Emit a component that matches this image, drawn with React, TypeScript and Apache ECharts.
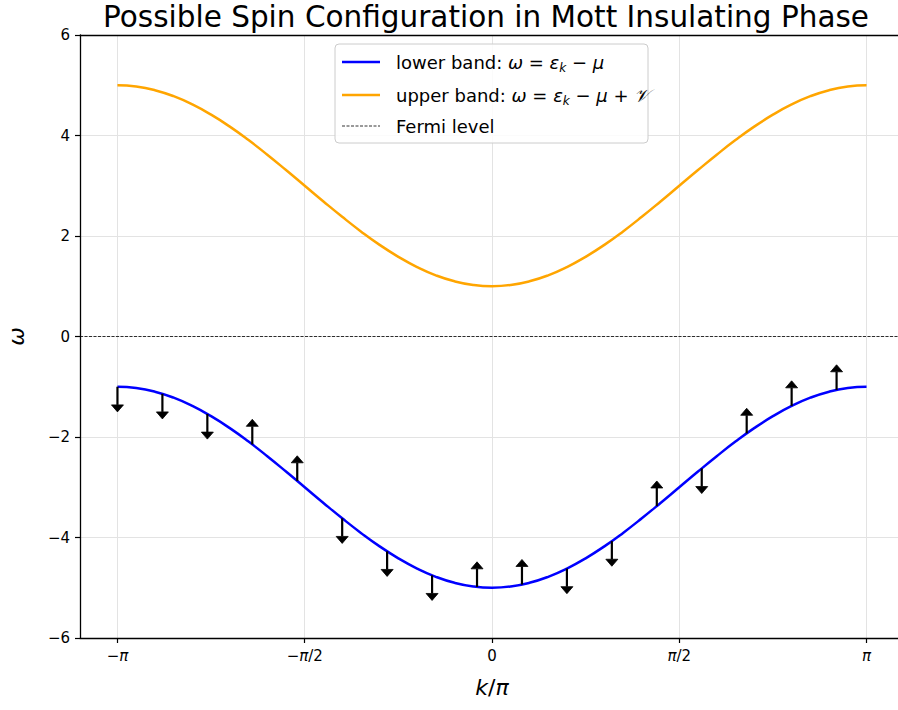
import React, { useEffect, useRef } from "react";
import * as echarts from "echarts";

const FONT = "DejaVu Sans";

// k/π sample positions and band values
const kGrid = [
  -1, -0.95, -0.9, -0.85, -0.8, -0.75, -0.7, -0.65, -0.6, -0.55, -0.5, -0.45, -0.4, -0.35, -0.3, -0.25, -0.2, -0.15, -0.1, -0.05,
  0, 0.05, 0.1, 0.15, 0.2, 0.25, 0.3, 0.35, 0.4, 0.45, 0.5, 0.55, 0.6, 0.65, 0.7, 0.75, 0.8, 0.85, 0.9, 0.95, 1,
];
const lowerBand = [
  -1, -1.025, -1.098, -1.218, -1.382, -1.586, -1.824, -2.092, -2.382, -2.687, -3, -3.313, -3.618, -3.908, -4.176, -4.414, -4.618, -4.782, -4.902, -4.975,
  -5, -4.975, -4.902, -4.782, -4.618, -4.414, -4.176, -3.908, -3.618, -3.313, -3, -2.687, -2.382, -2.092, -1.824, -1.586, -1.382, -1.218, -1.098, -1.025, -1,
];
const upperBand = [
  5, 4.975, 4.902, 4.782, 4.618, 4.414, 4.176, 3.908, 3.618, 3.313, 3, 2.687, 2.382, 2.092, 1.824, 1.586, 1.382, 1.218, 1.098, 1.025,
  1, 1.025, 1.098, 1.218, 1.382, 1.586, 1.824, 2.092, 2.382, 2.687, 3, 3.313, 3.618, 3.908, 4.176, 4.414, 4.618, 4.782, 4.902, 4.975, 5,
];

// spin arrows: k/π, starting energy on the lower band, direction (+1 up, -1 down)
const spinK = [-1, -0.88, -0.76, -0.64, -0.52, -0.4, -0.28, -0.16, -0.04, 0.08, 0.2, 0.32, 0.44, 0.56, 0.68, 0.8, 0.92];
const spinBase = [-1, -1.14, -1.542, -2.148, -2.874, -3.618, -4.275, -4.753, -4.984, -4.937, -4.618, -4.072, -3.375, -2.625, -1.928, -1.382, -1.063];
const spinDir = [-1, -1, -1, 1, 1, -1, -1, -1, 1, 1, -1, -1, 1, -1, 1, 1, 1];
const arrowLength = 0.5;

const xTicks = [-1, -0.5, 0, 0.5, 1];
const xTickLabels = ["{n|−}{i|π}", "{n|−}{i|π}{n|/2}", "{n|0}", "{i|π}{n|/2}", "{i|π}"];
const fermiLevel = 0;

export default function App() {
  const ref = useRef<HTMLDivElement>(null);
  useEffect(() => {
    const chart = echarts.init(ref.current!, undefined, { renderer: "svg" });

    const richBase = {
      n: { fontFamily: FONT, fontSize: 18, color: "#222", lineHeight: 24 },
      i: { fontFamily: FONT, fontSize: 18, fontStyle: "italic", color: "#222", lineHeight: 24 },
      s: { fontFamily: FONT, fontSize: 12, fontStyle: "italic", color: "#222", verticalAlign: "bottom" },
    };

    const legendRows = [
      { y: 62, color: "#0000ff", dash: null, text: "{n|lower band: }{i|ω}{n| = }{i|ε}{s|k}{n| − }{i|μ}" },
      { y: 95, color: "#ffa500", dash: null, text: "{n|upper band: }{i|ω}{n| = }{i|ε}{s|k}{n| − }{i|μ}{n| + }{i|𝒱}" },
      { y: 126, color: "#000", dash: [3, 1.5], text: "{n|Fermi level}" },
    ];

    const graphic: any[] = [
      {
        type: "rect",
        shape: { x: 335, y: 44, width: 313, height: 99, r: 4 },
        style: { fill: "rgba(255,255,255,0.85)", stroke: "#cccccc", lineWidth: 1 },
        z: 50,
      },
    ];
    legendRows.forEach((r) => {
      graphic.push({
        type: "line",
        shape: { x1: 342, y1: r.y, x2: 380, y2: r.y },
        style: { stroke: r.color, lineWidth: r.dash ? 0.8 : 2.5, lineDash: r.dash || undefined },
        z: 51,
      });
      graphic.push({
        type: "text",
        x: 396,
        y: r.y,
        style: { text: r.text, rich: richBase, verticalAlign: "middle", align: "left" },
        z: 51,
      });
    });

    const arrowData = spinK.map((k, i) => [k, spinBase[i], spinDir[i]]);
    const spine = { show: true, onZero: false, lineStyle: { color: "#000", width: 1.3 } };

    chart.setOption({
      animation: false,
      backgroundColor: "#ffffff",
      title: {
        text: "Possible Spin Configuration in Mott Insulating Phase",
        left: 481,
        top: -3,
        textAlign: "center",
        textStyle: { fontFamily: FONT, fontSize: 29.5, fontWeight: "normal", color: "#000" },
      },
      grid: { left: 80, top: 35, right: -6, bottom: 72, containLabel: false, outerBoundsMode: "none" },
      xAxis: [
        {
          type: "value",
          min: -1.1,
          max: 1.1,
          name: "{i|k}{n|/}{i|π}",
          nameLocation: "middle",
          nameGap: 38,
          nameTextStyle: {
            rich: {
              i: { fontFamily: FONT, fontSize: 22, fontStyle: "italic", color: "#000" },
              n: { fontFamily: FONT, fontSize: 22, color: "#000" },
            },
          },
          axisLine: spine,
          axisTick: { show: true, inside: false, length: 5, lineStyle: { color: "#000", width: 1.2 }, customValues: xTicks },
          axisLabel: {
            customValues: xTicks,
            margin: 10,
            color: "#000",
            rich: {
              n: { fontFamily: FONT, fontSize: 15, color: "#000" },
              i: { fontFamily: FONT, fontSize: 15, fontStyle: "italic", color: "#000" },
            },
            formatter: (v: number) => {
              const idx = xTicks.findIndex((t) => Math.abs(t - v) < 1e-9);
              return idx >= 0 ? xTickLabels[idx] : "";
            },
          },
          splitLine: { show: true, lineStyle: { color: "#e3e3e3", width: 1 } },
        },
        {
          type: "value",
          position: "top",
          min: -1.1,
          max: 1.1,
          axisLine: spine,
          axisTick: { show: false },
          axisLabel: { show: false },
          splitLine: { show: false },
        },
      ],
      yAxis: {
        type: "value",
        min: -6,
        max: 6,
        interval: 2,
        name: "ω",
        nameLocation: "middle",
        nameGap: 53,
        nameTextStyle: { fontFamily: FONT, fontSize: 22, fontStyle: "italic", color: "#000" },
        axisLine: spine,
        axisTick: { show: true, inside: false, length: 5, lineStyle: { color: "#000", width: 1.2 } },
        axisLabel: {
          margin: 10,
          fontFamily: FONT,
          fontSize: 15,
          color: "#000",
          formatter: (v: number) => String(v).replace("-", "−"),
        },
        splitLine: { show: true, lineStyle: { color: "#e3e3e3", width: 1 } },
      },
      graphic,
      series: [
        {
          name: "lower band",
          type: "line",
          data: kGrid.map((k, i) => [k, lowerBand[i]]),
          showSymbol: false,
          symbol: "none",
          smooth: true,
          lineStyle: { color: "#0000ff", width: 2.5 },
          z: 3,
        },
        {
          name: "upper band",
          type: "line",
          data: kGrid.map((k, i) => [k, upperBand[i]]),
          showSymbol: false,
          symbol: "none",
          smooth: true,
          lineStyle: { color: "#ffa500", width: 2.5 },
          z: 3,
        },
        {
          name: "Fermi level",
          type: "line",
          data: [
            [-1.1, fermiLevel],
            [1.1, fermiLevel],
          ],
          showSymbol: false,
          symbol: "none",
          lineStyle: { color: "#000", width: 0.8, type: [3, 1.5] },
          z: 2,
        },
        {
          name: "spins",
          type: "custom",
          data: arrowData,
          encode: { x: 0, y: 1 },
          z: 4,
          renderItem: (params: any, api: any) => {
            const k = api.value(0);
            const base = api.value(1);
            const dir = api.value(2);
            const p0 = api.coord([k, base]);
            const p1 = api.coord([k, base + dir * arrowLength]);
            const headLen = 7;
            const halfW = 6;
            const sgn = p1[1] < p0[1] ? -1 : 1; // pixel direction
            const shaftEnd = p1[1] - sgn * headLen;
            return {
              type: "group",
              children: [
                {
                  type: "line",
                  shape: { x1: p0[0], y1: p0[1], x2: p0[0], y2: shaftEnd },
                  style: { stroke: "#000", lineWidth: 2.2 },
                },
                {
                  type: "polygon",
                  shape: {
                    points: [
                      [p1[0] - halfW, shaftEnd],
                      [p1[0] + halfW, shaftEnd],
                      [p1[0], p1[1]],
                    ],
                  },
                  style: { fill: "#000", stroke: "#000", lineWidth: 0.8, lineJoin: "round" },
                },
              ],
            };
          },
        },
      ],
    });
    return () => chart.dispose();
  }, []);
  return <div ref={ref} style={{ position: "absolute", left: 0, top: 0, width: 898, height: 710 }} />;
}
